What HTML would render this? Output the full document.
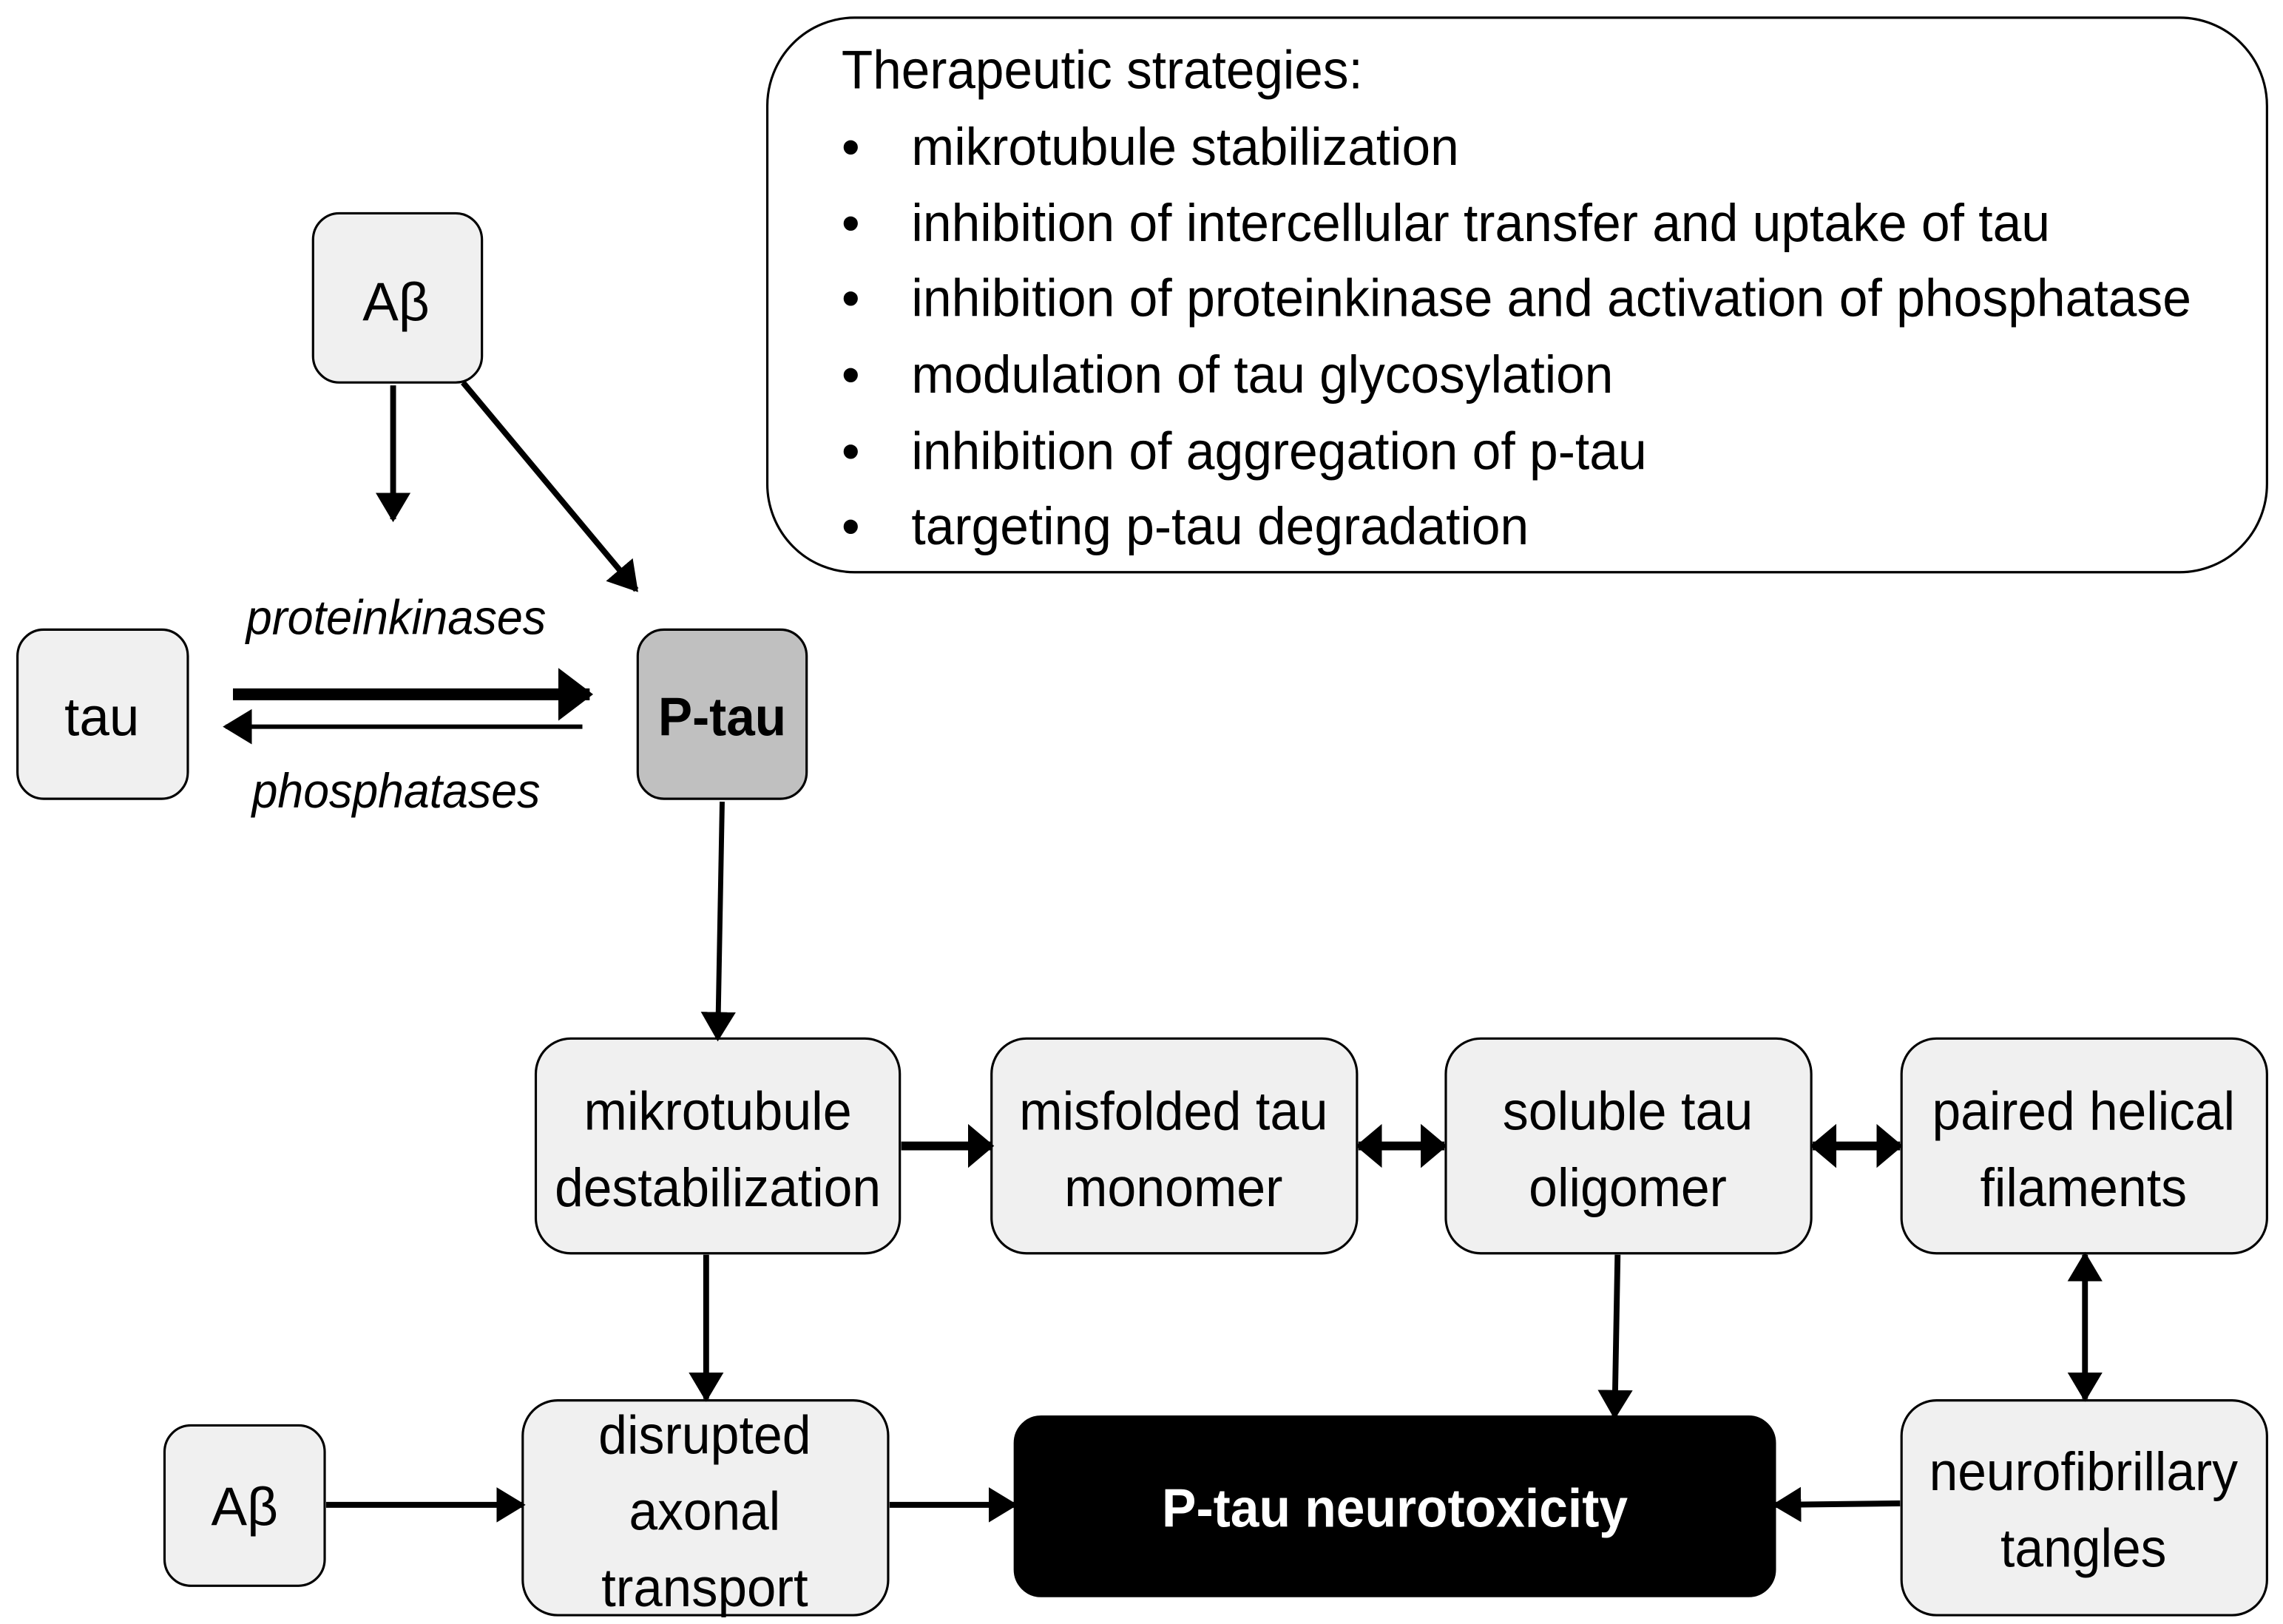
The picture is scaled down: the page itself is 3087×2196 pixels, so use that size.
<!DOCTYPE html>
<html><head><meta charset="utf-8"><style>
html,body{margin:0;padding:0;background:#fff;}
svg{display:block;}
text{font-family:"Liberation Sans",sans-serif;}
</style></head><body>
<svg width="3087" height="2196" viewBox="0 0 1568 1104" preserveAspectRatio="none" xmlns="http://www.w3.org/2000/svg">
<defs>
<marker id="a" viewBox="0 0 10 10" refX="9" refY="5" markerWidth="20" markerHeight="24" orient="auto-start-reverse" markerUnits="userSpaceOnUse" preserveAspectRatio="none"><path d="M0,0 L10,5 L0,10 z" fill="#000"/></marker>
<marker id="b" viewBox="0 0 10 10" refX="9" refY="5" markerWidth="18" markerHeight="30" orient="auto-start-reverse" markerUnits="userSpaceOnUse" preserveAspectRatio="none"><path d="M0,0 L10,5 L0,10 z" fill="#000"/></marker>
<marker id="c" viewBox="0 0 10 10" refX="9" refY="5" markerWidth="24" markerHeight="36" orient="auto-start-reverse" markerUnits="userSpaceOnUse" preserveAspectRatio="none"><path d="M0,0 L10,5 L0,10 z" fill="#000"/></marker>
</defs>
<g stroke="#000" stroke-width="1.6">
<rect x="527" y="12" width="1030" height="377" rx="60" fill="#fff"/>
<rect x="215" y="145" width="116" height="115" rx="18" fill="#f0f0f0"/>
<rect x="12" y="428" width="117" height="115" rx="18" fill="#f0f0f0"/>
<rect x="438" y="428" width="116" height="115" rx="18" fill="#c0c0c0"/>
<rect x="368" y="706" width="250" height="146" rx="24" fill="#f0f0f0"/>
<rect x="681" y="706" width="251" height="146" rx="24" fill="#f0f0f0"/>
<rect x="993" y="706" width="251" height="146" rx="24" fill="#f0f0f0"/>
<rect x="1306" y="706" width="251" height="146" rx="24" fill="#f0f0f0"/>
<rect x="113" y="969" width="110" height="109" rx="18" fill="#f0f0f0"/>
<rect x="359" y="952" width="251" height="146" rx="24" fill="#f0f0f0"/>
<rect x="697" y="963" width="522" height="122" rx="18" fill="#000"/>
<rect x="1306" y="952" width="251" height="146" rx="24" fill="#f0f0f0"/>
</g>
<g stroke="#000" fill="none">
<line x1="270" y1="262" x2="270" y2="353" stroke-width="4" marker-end="url(#a)"/>
<line x1="318" y1="260" x2="437" y2="401" stroke-width="4" marker-end="url(#a)"/>
<line x1="160" y1="472" x2="405" y2="472" stroke-width="8" marker-end="url(#c)"/>
<line x1="400" y1="494" x2="155" y2="494" stroke-width="3" marker-end="url(#a)"/>
<line x1="496" y1="545" x2="493" y2="706" stroke-width="3.5" marker-end="url(#a)"/>
<line x1="619" y1="779" x2="681" y2="779" stroke-width="6" marker-end="url(#b)"/>
<line x1="933" y1="779" x2="992" y2="779" stroke-width="6" marker-start="url(#b)" marker-end="url(#b)"/>
<line x1="1245" y1="779" x2="1305" y2="779" stroke-width="6" marker-start="url(#b)" marker-end="url(#b)"/>
<line x1="485" y1="853" x2="485" y2="951" stroke-width="4" marker-end="url(#a)"/>
<line x1="1111" y1="853" x2="1109" y2="963" stroke-width="4" marker-end="url(#a)"/>
<line x1="1432" y1="853" x2="1432" y2="951" stroke-width="4" marker-start="url(#a)" marker-end="url(#a)"/>
<line x1="224" y1="1023" x2="359" y2="1023" stroke-width="4" marker-end="url(#a)"/>
<line x1="611" y1="1023" x2="697" y2="1023" stroke-width="4" marker-end="url(#a)"/>
<line x1="1305" y1="1022" x2="1219" y2="1023" stroke-width="4" marker-end="url(#a)"/>
</g>
<g font-size="37" fill="#000">
<text x="578" y="60" textLength="358" lengthAdjust="spacingAndGlyphs">Therapeutic strategies:</text>
<g font-size="36">
<text x="578" y="112">•</text><text x="626" y="112" textLength="376" lengthAdjust="spacingAndGlyphs">mikrotubule stabilization</text>
<text x="578" y="164">•</text><text x="626" y="164" textLength="782" lengthAdjust="spacingAndGlyphs">inhibition of intercellular transfer and uptake of tau</text>
<text x="578" y="215">•</text><text x="626" y="215" textLength="879" lengthAdjust="spacingAndGlyphs">inhibition of proteinkinase and activation of phosphatase</text>
<text x="578" y="267">•</text><text x="626" y="267" textLength="482" lengthAdjust="spacingAndGlyphs">modulation of tau glycosylation</text>
<text x="578" y="319">•</text><text x="626" y="319" textLength="505" lengthAdjust="spacingAndGlyphs">inhibition of aggregation of p-tau</text>
<text x="578" y="370">•</text><text x="626" y="370" textLength="424" lengthAdjust="spacingAndGlyphs">targeting p-tau degradation</text>
</g>
<g text-anchor="middle">
<text x="272" y="218">Aβ</text>
<text x="70" y="500">tau</text>
<text x="496" y="500" font-weight="bold" textLength="88" lengthAdjust="spacingAndGlyphs">P-tau</text>
<text x="272" y="431" font-size="33" font-style="italic" textLength="206" lengthAdjust="spacingAndGlyphs">proteinkinases</text>
<text x="272" y="549" font-size="33" font-style="italic" textLength="198" lengthAdjust="spacingAndGlyphs">phosphatases</text>
<text x="493" y="768" textLength="184" lengthAdjust="spacingAndGlyphs">mikrotubule</text>
<text x="493" y="820" textLength="224" lengthAdjust="spacingAndGlyphs">destabilization</text>
<text x="806" y="768" textLength="212" lengthAdjust="spacingAndGlyphs">misfolded tau</text>
<text x="806" y="820" textLength="150" lengthAdjust="spacingAndGlyphs">monomer</text>
<text x="1118" y="768" textLength="172" lengthAdjust="spacingAndGlyphs">soluble tau</text>
<text x="1118" y="820" textLength="136" lengthAdjust="spacingAndGlyphs">oligomer</text>
<text x="1431" y="768" textLength="208" lengthAdjust="spacingAndGlyphs">paired helical</text>
<text x="1431" y="820" textLength="142" lengthAdjust="spacingAndGlyphs">filaments</text>
<text x="168" y="1037">Aβ</text>
<text x="484" y="988" textLength="146" lengthAdjust="spacingAndGlyphs">disrupted</text>
<text x="484" y="1040" textLength="104" lengthAdjust="spacingAndGlyphs">axonal</text>
<text x="484" y="1092" textLength="142" lengthAdjust="spacingAndGlyphs">transport</text>
<text x="958" y="1038" fill="#fff" font-weight="bold" textLength="320" lengthAdjust="spacingAndGlyphs">P-tau neurotoxicity</text>
<text x="1431" y="1013" textLength="212" lengthAdjust="spacingAndGlyphs">neurofibrillary</text>
<text x="1431" y="1065" textLength="114" lengthAdjust="spacingAndGlyphs">tangles</text>
</g>
</g>
</svg>
</body></html>
